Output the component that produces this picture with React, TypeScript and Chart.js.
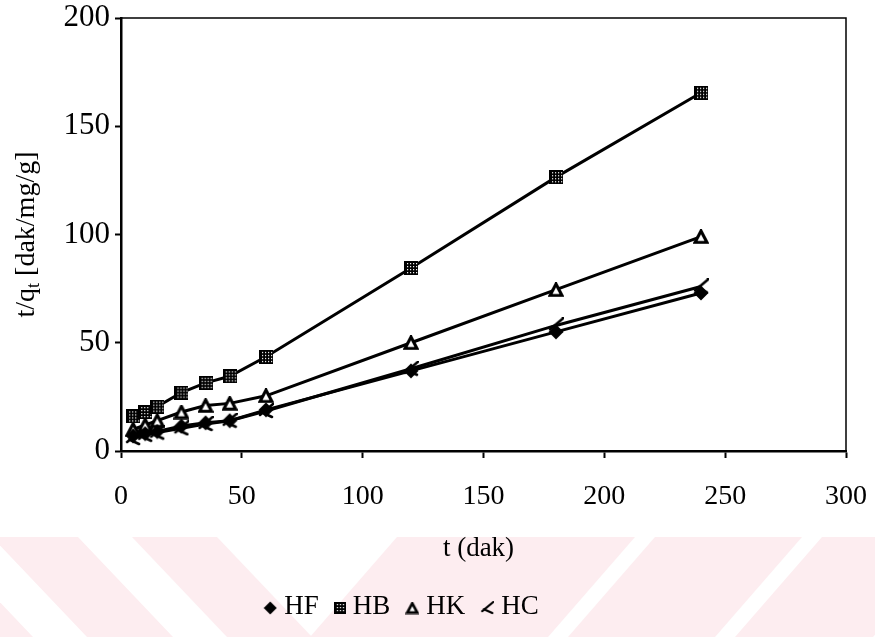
import React, { useEffect, useRef } from 'react';
import { Chart, registerables } from 'chart.js';

Chart.register(...registerables);

// ---- data ----
const timeMin = [5, 10, 15, 25, 35, 45, 60, 120, 180, 240];
const hfValues = [7, 8, 9, 11.5, 13, 14, 19, 37, 55, 73];
const hbValues = [16, 18, 20.5, 27, 31.5, 34.5, 43.5, 84.5, 126.5, 165.5];
const hkValues = [10, 12, 14, 18, 21, 22, 25.5, 50, 74.5, 99];
const hcValues = [6, 7.5, 8.5, 10.5, 12.5, 14, 18.5, 38, 58, 76];
const seriesLabels = ['HF', 'HB', 'HK', 'HC'];
const xTickValues = [0, 50, 100, 150, 200, 250, 300];
const yTickValues = [0, 50, 100, 150, 200];
const xTitle = 't (dak)';
const yTitleMain = 't/q';
const yTitleSub = 't';
const yTitleRest = ' [dak/mg/g]';

const SERIF = "'Liberation Serif', 'Times New Roman', serif";

function makeCanvas(w: number, h: number, draw: (ctx: CanvasRenderingContext2D) => void) {
  const c = document.createElement('canvas');
  c.width = w;
  c.height = h;
  const ctx = c.getContext('2d') as CanvasRenderingContext2D;
  draw(ctx);
  return c;
}

function makeMarkers(s: number) {
  const diamond = makeCanvas(s + 2, s + 2, (ctx) => {
    const c = (s + 2) / 2;
    ctx.fillStyle = '#000';
    ctx.beginPath();
    ctx.moveTo(c, 0.5);
    ctx.lineTo(s + 1.5, c);
    ctx.lineTo(c, s + 1.5);
    ctx.lineTo(0.5, c);
    ctx.closePath();
    ctx.fill();
  });
  const square = makeCanvas(s, s, (ctx) => {
    ctx.fillStyle = '#000';
    ctx.fillRect(0, 0, s, s);
    ctx.fillStyle = '#fff';
    for (let i = 2; i < s - 2; i += 3) {
      for (let j = 2; j < s - 2; j += 3) {
        ctx.fillRect(i + ((j / 3) % 2 ? 1 : 0), j, 1.2, 1.2);
      }
    }
  });
  const triangle = makeCanvas(s + 2, s + 1, (ctx) => {
    ctx.fillStyle = '#fff';
    ctx.strokeStyle = '#000';
    ctx.lineWidth = Math.max(2.2, s / 4.5);
    ctx.lineJoin = 'miter';
    ctx.beginPath();
    ctx.moveTo((s + 2) / 2, 1.8);
    ctx.lineTo(s, s - 0.8);
    ctx.lineTo(2, s - 0.8);
    ctx.closePath();
    ctx.fill();
    ctx.stroke();
  });
  const hook = makeCanvas(s + 2, s + 2, (ctx) => {
    ctx.strokeStyle = '#000';
    ctx.lineWidth = Math.max(2.2, s / 5.5);
    ctx.lineCap = 'round';
    ctx.beginPath();
    ctx.moveTo(s + 1, 1);
    ctx.lineTo(2, s * 0.85);
    ctx.moveTo(s * 0.3, s * 0.68);
    ctx.lineTo(s, s);
    ctx.stroke();
  });
  return [diamond, square, triangle, hook];
}

const pack = (vals: number[]) => timeMin.map((t, i) => ({ x: t, y: vals[i] }));

export default function App() {
  const ref = useRef<HTMLCanvasElement | null>(null);

  useEffect(() => {
    document.body.style.margin = '0';
    const canvas = ref.current;
    if (!canvas) return;

    const plotMarkers = makeMarkers(14);
    const legendMarkers = makeMarkers(12);

    const backgroundPlugin = {
      id: 'paperBackground',
      beforeDraw(chart: any) {
        const { ctx, width, height } = chart;
        ctx.save();
        ctx.fillStyle = '#ffffff';
        ctx.fillRect(0, 0, width, height);
        // pale pink watermark stripes
        ctx.fillStyle = '#fdedf0';
        const top = 537;
        const bot = height;
        const bands: [number, number, number][] = [
          [-148, -62, 95],
          [-8, 78, 95],
          [132, 217, 95],
          [397, 635, -87],
          [655, 802, -87],
          [822, 960, -87],
        ];
        for (const [a, b, d] of bands) {
          ctx.beginPath();
          ctx.moveTo(a, top);
          ctx.lineTo(b, top);
          ctx.lineTo(b + d, bot);
          ctx.lineTo(a + d, bot);
          ctx.closePath();
          ctx.fill();
        }
        ctx.restore();
      },
    };

    const decorPlugin = {
      id: 'decor',
      afterDraw(chart: any) {
        const { ctx, chartArea } = chart;
        const { left, right, top, bottom } = chartArea;
        ctx.save();
        // frame (top and right)
        ctx.strokeStyle = '#000';
        ctx.lineWidth = 1.5;
        ctx.beginPath();
        ctx.moveTo(left, top);
        ctx.lineTo(right, top);
        ctx.lineTo(right, bottom);
        ctx.stroke();

        ctx.fillStyle = '#000';
        // x axis title
        ctx.font = `27px ${SERIF}`;
        ctx.textAlign = 'center';
        ctx.textBaseline = 'middle';
        ctx.fillText(xTitle, (left + right) / 2 - 5, 549);

        // y axis title with subscript
        ctx.save();
        ctx.translate(25, (top + bottom) / 2);
        ctx.rotate(-Math.PI / 2);
        const mainFont = `28px ${SERIF}`;
        const subFont = `18px ${SERIF}`;
        ctx.font = mainFont;
        const w1 = ctx.measureText(yTitleMain).width;
        const w3 = ctx.measureText(yTitleRest).width;
        ctx.font = subFont;
        const w2 = ctx.measureText(yTitleSub).width;
        const x0 = -(w1 + w2 + w3) / 2;
        ctx.textAlign = 'left';
        ctx.textBaseline = 'alphabetic';
        ctx.font = mainFont;
        ctx.fillText(yTitleMain, x0, 9);
        ctx.font = subFont;
        ctx.fillText(yTitleSub, x0 + w1, 14);
        ctx.font = mainFont;
        ctx.fillText(yTitleRest, x0 + w1 + w2, 9);
        ctx.restore();

        // legend
        ctx.font = `27px ${SERIF}`;
        const gapMarker = 7;
        const gapItem = 15;
        const items = chart.data.datasets.map((ds: any, i: number) => ({
          label: ds.label,
          img: legendMarkers[i],
          tw: ctx.measureText(ds.label).width,
        }));
        const total =
          items.reduce((s: number, it: any) => s + it.img.width + gapMarker + it.tw, 0) +
          gapItem * (items.length - 1);
        let x = 401 - total / 2;
        const yMid = 607;
        ctx.textAlign = 'left';
        ctx.textBaseline = 'middle';
        for (const it of items) {
          ctx.drawImage(it.img, x, yMid - it.img.height / 2 + 1);
          x += it.img.width + gapMarker;
          ctx.fillText(it.label, x, yMid);
          x += it.tw + gapItem;
        }
        ctx.restore();
      },
    };

    const valueSets = [hfValues, hbValues, hkValues, hcValues];
    const chart = new Chart(canvas, {
      type: 'line',
      data: {
        datasets: seriesLabels.map((label, i) => ({
          label,
          data: pack(valueSets[i]),
          borderColor: '#000',
          backgroundColor: '#000',
          borderWidth: 3,
          tension: 0,
          fill: false,
          pointStyle: plotMarkers[i] as any,
          pointRadius: 7,
          pointHoverRadius: 7,
        })),
      },
      options: {
        responsive: false,
        animation: false,
        events: [],
        layout: { padding: { top: 18, right: 29, left: 0, bottom: 0 } },
        plugins: {
          legend: { display: false },
          tooltip: { enabled: false },
        },
        scales: {
          x: {
            type: 'linear',
            min: 0,
            max: 300,
            afterBuildTicks: (scale: any) => {
              scale.ticks = xTickValues.map((v) => ({ value: v }));
            },
            afterFit: (scale: any) => {
              scale.height = 186;
              scale.paddingLeft = 0;
              scale.paddingRight = 0;
            },
            ticks: {
              color: '#000',
              font: { family: SERIF, size: 28 },
              padding: 22,
              maxRotation: 0,
              autoSkip: false,
            },
            grid: {
              display: true,
              drawOnChartArea: false,
              drawTicks: true,
              tickLength: 7,
              tickColor: '#000',
              tickWidth: 2,
            },
            border: { display: true, color: '#000', width: 2.5 },
          },
          y: {
            type: 'linear',
            min: 0,
            max: 200,
            afterBuildTicks: (scale: any) => {
              scale.ticks = yTickValues.map((v) => ({ value: v }));
            },
            afterFit: (scale: any) => {
              scale.width = 121;
              scale.paddingTop = 0;
              scale.paddingBottom = 0;
            },
            ticks: {
              color: '#000',
              font: { family: SERIF, size: 31 },
              padding: 5,
              autoSkip: false,
            },
            grid: {
              display: true,
              drawOnChartArea: false,
              drawTicks: true,
              tickLength: 6,
              tickColor: '#000',
              tickWidth: 2,
            },
            border: { display: true, color: '#000', width: 2.5 },
          },
        },
      },
      plugins: [backgroundPlugin, decorPlugin],
    });

    return () => {
      chart.destroy();
    };
  }, []);

  return (
    <div style={{ width: 875, height: 637 }}>
      <canvas ref={ref} width={875} height={637} style={{ display: 'block' }} />
    </div>
  );
}
